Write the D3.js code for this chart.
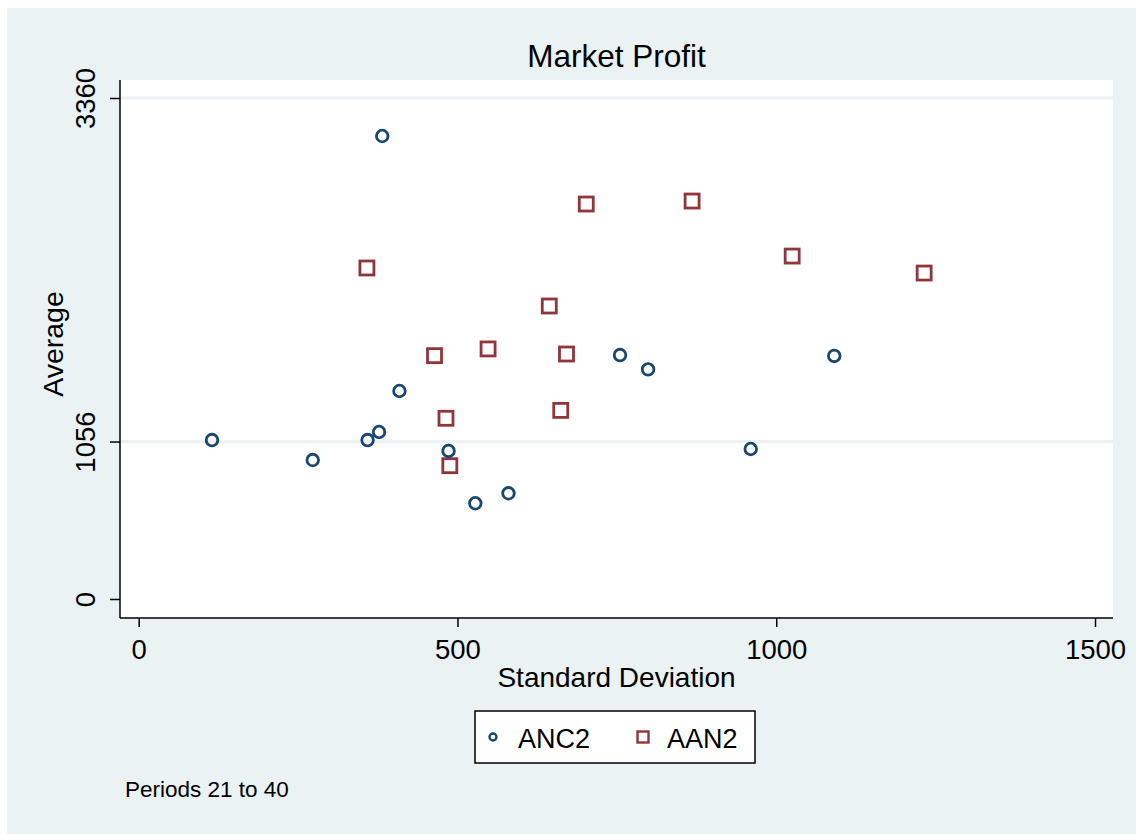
<!DOCTYPE html>
<html lang="en">
<head>
    <meta charset="UTF-8">
    <title>Market Profit</title>
    <script src="https://d3js.org/d3.v7.min.js"></script>
    <style>
        body { margin: 0; background: #ffffff; }
        svg text { font-family: "Liberation Sans", Arial, sans-serif; fill: #000; }
    </style>
</head>
<body>
<div id="chart"></div>
<script>
    // ANC2 (circles): standard deviation vs average
    const ancSd  = [382, 115, 273, 359, 377, 409, 486, 528, 580, 755, 799, 960, 1091];
    const ancAvg = [3105, 1066, 932, 1066, 1120, 1395, 993, 642, 709, 1636, 1540, 1006, 1630];

    // AAN2 (squares)
    const aanSd  = [358, 702, 868, 1025, 1232, 644, 464, 548, 671, 482, 662, 488];
    const aanAvg = [2220, 2649, 2669, 2300, 2186, 1965, 1632, 1677, 1643, 1212, 1265, 894];

    const xTicks = [0, 500, 1000, 1500];
    const yTicks = [0, 1056, 3360];
    const gridTicks = [1056, 3360];
    const seriesNames = ["ANC2", "AAN2"];

    const navy = "#1a476f", maroon = "#90353b", bg = "#eaf2f3";

    const svg = d3.select("#chart").append("svg")
        .attr("width", 1136)
        .attr("height", 834);

    // outer background
    svg.append("rect")
        .attr("x", 7).attr("y", 8)
        .attr("width", 1129).attr("height", 826)
        .attr("fill", bg);

    // plot region
    const plot = { left: 120, top: 80, right: 1113, bottom: 618 };
    svg.append("rect")
        .attr("x", plot.left).attr("y", plot.top)
        .attr("width", plot.right - plot.left)
        .attr("height", plot.bottom - plot.top)
        .attr("fill", "#fff");

    const x = d3.scaleLinear().domain([0, 1500]).range([138.7, 1095]);
    const y = d3.scaleLinear().domain([0, 3360]).range([599, 98]);

    // gridlines
    svg.append("g").selectAll("line")
        .data(gridTicks)
        .enter().append("line")
        .attr("x1", plot.left).attr("x2", plot.right)
        .attr("y1", d => y(d)).attr("y2", d => y(d))
        .attr("stroke", bg)
        .attr("stroke-width", 3);

    // y axis
    const yAxis = svg.append("g")
        .attr("transform", `translate(${plot.left},0)`)
        .call(d3.axisLeft(y).tickValues(yTicks).tickSize(10).tickSizeOuter(0).tickFormat(d3.format("d")));
    yAxis.select(".domain").attr("d", `M0,${plot.top}V${plot.bottom}`).attr("stroke", "#000").attr("stroke-width", 1.5);
    yAxis.selectAll(".tick line").attr("stroke", "#000").attr("stroke-width", 1.5);
    yAxis.selectAll(".tick text")
        .attr("x", null).attr("dy", null)
        .attr("transform", "translate(-25,0) rotate(-90)")
        .attr("text-anchor", "middle")
        .style("font-size", "27.5px");

    // x axis
    const xAxis = svg.append("g")
        .attr("transform", `translate(0,${plot.bottom})`)
        .call(d3.axisBottom(x).tickValues(xTicks).tickSize(9).tickSizeOuter(0).tickFormat(d3.format("d")));
    xAxis.select(".domain").attr("d", `M${plot.left},0H${plot.right}`).attr("stroke", "#000").attr("stroke-width", 1.5);
    xAxis.selectAll(".tick line").attr("stroke", "#000").attr("stroke-width", 1.5);
    xAxis.selectAll(".tick text")
        .attr("y", 41).attr("dy", null)
        .style("font-size", "27.5px");

    svg.selectAll(".tick text").attr("font-family", null).attr("fill", "#000");

    // markers
    const anc = ancSd.map((d, i) => ({ sd: d, avg: ancAvg[i] }));
    const aan = aanSd.map((d, i) => ({ sd: d, avg: aanAvg[i] }));

    svg.append("g").selectAll("rect")
        .data(aan)
        .enter().append("rect")
        .attr("x", d => x(d.sd) - 7)
        .attr("y", d => y(d.avg) - 7)
        .attr("width", 14).attr("height", 14)
        .attr("fill", "none")
        .attr("stroke", maroon)
        .attr("stroke-width", 2.8);

    svg.append("g").selectAll("circle")
        .data(anc)
        .enter().append("circle")
        .attr("cx", d => x(d.sd))
        .attr("cy", d => y(d.avg))
        .attr("r", 5.8)
        .attr("fill", "none")
        .attr("stroke", navy)
        .attr("stroke-width", 2.8);

    // titles
    svg.append("text")
        .attr("x", (plot.left + plot.right) / 2).attr("y", 67)
        .attr("text-anchor", "middle")
        .style("font-size", "31.5px")
        .text("Market Profit");

    svg.append("text")
        .attr("x", (plot.left + plot.right) / 2).attr("y", 687)
        .attr("text-anchor", "middle")
        .style("font-size", "28px")
        .text("Standard Deviation");

    svg.append("text")
        .attr("transform", "translate(63,344) rotate(-90)")
        .attr("text-anchor", "middle")
        .style("font-size", "28.5px")
        .text("Average");

    // legend
    const legend = svg.append("g");
    legend.append("rect")
        .attr("x", 475).attr("y", 711)
        .attr("width", 280).attr("height", 52)
        .attr("fill", "#fff")
        .attr("stroke", "#000")
        .attr("stroke-width", 1.5);
    legend.append("circle")
        .attr("cx", 493).attr("cy", 737).attr("r", 3.5)
        .attr("fill", "none").attr("stroke", navy).attr("stroke-width", 2.4);
    legend.append("rect")
        .attr("x", 637.5).attr("y", 731.5).attr("width", 11).attr("height", 11)
        .attr("fill", "none").attr("stroke", maroon).attr("stroke-width", 2.4);
    legend.selectAll("text.lbl")
        .data(seriesNames)
        .enter().append("text")
        .attr("class", "lbl")
        .attr("x", (d, i) => i === 0 ? 518 : 667)
        .attr("y", 748)
        .style("font-size", "27px")
        .text(d => d);

    // note
    svg.append("text")
        .attr("x", 125).attr("y", 797)
        .style("font-size", "22.5px")
        .text("Periods 21 to 40");
</script>
</body>
</html>
